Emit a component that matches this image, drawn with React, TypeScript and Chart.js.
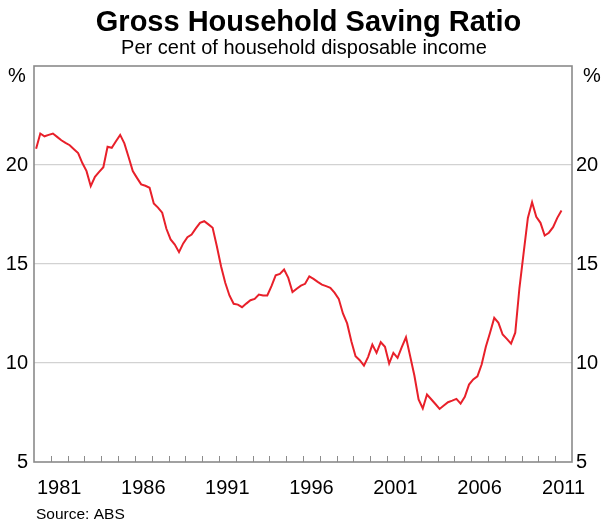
import React, { useEffect, useRef } from "react";
import { Chart, registerables } from "chart.js";

Chart.register(...registerables);

// Gross household saving ratio, quarterly, starting 1980 Q1 (per cent)
const startYear = 1980;
const saving1980s = [
  20.82, 21.59, 21.45, 21.52, 21.59, 21.42, 21.25, 21.12, 21.0, 20.8,
  20.6, 20.1, 19.69, 18.93, 19.4, 19.65, 19.89, 20.92, 20.87, 21.2,
  21.52, 21.09, 20.4, 19.69, 19.35, 19.02, 18.95, 18.85, 18.06, 17.85,
  17.59, 16.78, 16.24, 15.98, 15.6, 16.04, 16.35, 16.49, 16.8, 17.08,
];
const saving1990s = [
  17.16, 17.0, 16.83, 15.9, 14.89, 14.05, 13.41, 12.99, 12.95, 12.82,
  13.0, 13.17, 13.24, 13.46, 13.41, 13.41, 13.88, 14.43, 14.5, 14.72,
  14.3, 13.58, 13.75, 13.91, 14.0, 14.38, 14.25, 14.1, 13.96, 13.88,
  13.8, 13.55, 13.24, 12.5, 12.0, 11.1, 10.34, 10.14, 9.87, 10.31,
];
const saving2000s = [
  10.93, 10.51, 11.05, 10.82, 9.97, 10.51, 10.26, 10.8, 11.3, 10.34,
  9.37, 8.16, 7.7, 8.41, 8.17, 7.93, 7.68, 7.85, 8.02, 8.1,
  8.19, 7.95, 8.29, 8.91, 9.17, 9.33, 9.92, 10.82, 11.53, 12.28,
  12.03, 11.44, 11.22, 10.98, 11.53, 13.8, 15.57, 17.33, 18.12, 17.38,
];
const saving2010s = [17.08, 16.44, 16.58, 16.86, 17.33, 17.7];

const xLabelYears = [1981, 1986, 1991, 1996, 2001, 2006, 2011];
const yTicks = [5, 10, 15, 20, 25];

const TITLE = "Gross Household Saving Ratio";
const SUBTITLE = "Per cent of household disposable income";
const SOURCE = "Source: ABS";
const UNIT = "%";

const FONT = '"Liberation Sans", Arial, Helvetica, sans-serif';

export default function App() {
  const ref = useRef<HTMLCanvasElement | null>(null);

  useEffect(() => {
    document.body.style.margin = "0";
    const canvas = ref.current;
    if (!canvas) return;

    const values = [...saving1980s, ...saving1990s, ...saving2000s, ...saving2010s];
    const points = values.map((v, i) => ({ x: startYear + (i + 0.5) / 4, y: v }));

    const decorPlugin = {
      id: "decor",
      afterDraw(chart: any) {
        const { ctx, chartArea } = chart;
        const xs = chart.scales.x;
        ctx.save();
        // minor year ticks pointing inward from the bottom border
        ctx.strokeStyle = "#8c8c8c";
        ctx.lineWidth = 1;
        for (let yr = startYear + 1; yr < 2012; yr++) {
          const px = Math.round(xs.getPixelForValue(yr)) + 0.5;
          ctx.beginPath();
          ctx.moveTo(px, chartArea.bottom);
          ctx.lineTo(px, chartArea.bottom - 6);
          ctx.stroke();
        }
        // frame
        ctx.strokeStyle = "#8a8a8a";
        ctx.lineWidth = 1.6;
        ctx.strokeRect(
          chartArea.left,
          chartArea.top,
          chartArea.right - chartArea.left,
          chartArea.bottom - chartArea.top
        );
        // texts
        ctx.fillStyle = "#000";
        ctx.textAlign = "center";
        ctx.textBaseline = "alphabetic";
        ctx.font = `bold 29px ${FONT}`;
        ctx.fillText(TITLE, 308.5, 31);
        ctx.font = `20px ${FONT}`;
        ctx.fillText(SUBTITLE, 304, 54);
        ctx.textBaseline = "middle";
        ctx.fillText(UNIT, 17, 76);
        ctx.fillText(UNIT, 592, 76);
        ctx.textAlign = "left";
        ctx.font = `15.5px ${FONT}`;
        ctx.fillText(SOURCE, 36, 515);
        ctx.restore();
      },
    };

    const yTickCallback = (v: any) => (Number(v) === 25 ? "" : String(v));

    const chart = new Chart(canvas, {
      type: "line",
      data: {
        datasets: [
          {
            data: points,
            borderColor: "#e8202a",
            borderWidth: 2,
            pointRadius: 0,
            tension: 0,
            fill: false,
          },
        ],
      },
      options: {
        animation: false,
        responsive: false,
        maintainAspectRatio: false,
        events: [],
        layout: { padding: { top: 66, left: 0, right: 0, bottom: 0 } },
        plugins: {
          legend: { display: false },
          tooltip: { enabled: false },
          title: { display: false },
        },
        scales: {
          x: {
            type: "linear",
            min: startYear,
            max: 2012,
            grid: { display: false },
            border: { display: false },
            afterBuildTicks: (scale: any) => {
              scale.ticks = xLabelYears.map((y) => ({ value: y + 0.5 }));
            },
            afterFit: (scale: any) => {
              scale.height = 68;
            },
            ticks: {
              autoSkip: false,
              maxRotation: 0,
              padding: 6,
              color: "#000",
              font: { family: FONT, size: 20 },
              callback: (v: any) => String(Math.floor(Number(v))),
            },
          },
          y: {
            type: "linear",
            position: "left",
            min: 5,
            max: 25,
            afterBuildTicks: (scale: any) => {
              scale.ticks = yTicks.map((v) => ({ value: v }));
            },
            afterFit: (scale: any) => {
              scale.width = 34;
            },
            grid: {
              drawTicks: false,
              color: (c: any) =>
                c.tick && (c.tick.value === 5 || c.tick.value === 25)
                  ? "rgba(0,0,0,0)"
                  : "#d2d2d2",
              lineWidth: 1.2,
            },
            border: { display: false },
            ticks: {
              padding: 6,
              color: "#000",
              font: { family: FONT, size: 20 },
              callback: yTickCallback,
            },
          },
          y2: {
            type: "linear",
            position: "right",
            min: 5,
            max: 25,
            afterBuildTicks: (scale: any) => {
              scale.ticks = yTicks.map((v) => ({ value: v }));
            },
            afterFit: (scale: any) => {
              scale.width = 44;
            },
            grid: { display: false, drawTicks: false },
            border: { display: false },
            ticks: {
              padding: 4,
              color: "#000",
              font: { family: FONT, size: 20 },
              callback: yTickCallback,
            },
          },
        },
      },
      plugins: [decorPlugin],
    } as any);

    return () => chart.destroy();
  }, []);

  return (
    <div style={{ width: 616, height: 530, position: "relative" }}>
      <canvas ref={ref} width={616} height={530} style={{ display: "block", width: 616, height: 530 }} />
    </div>
  );
}
